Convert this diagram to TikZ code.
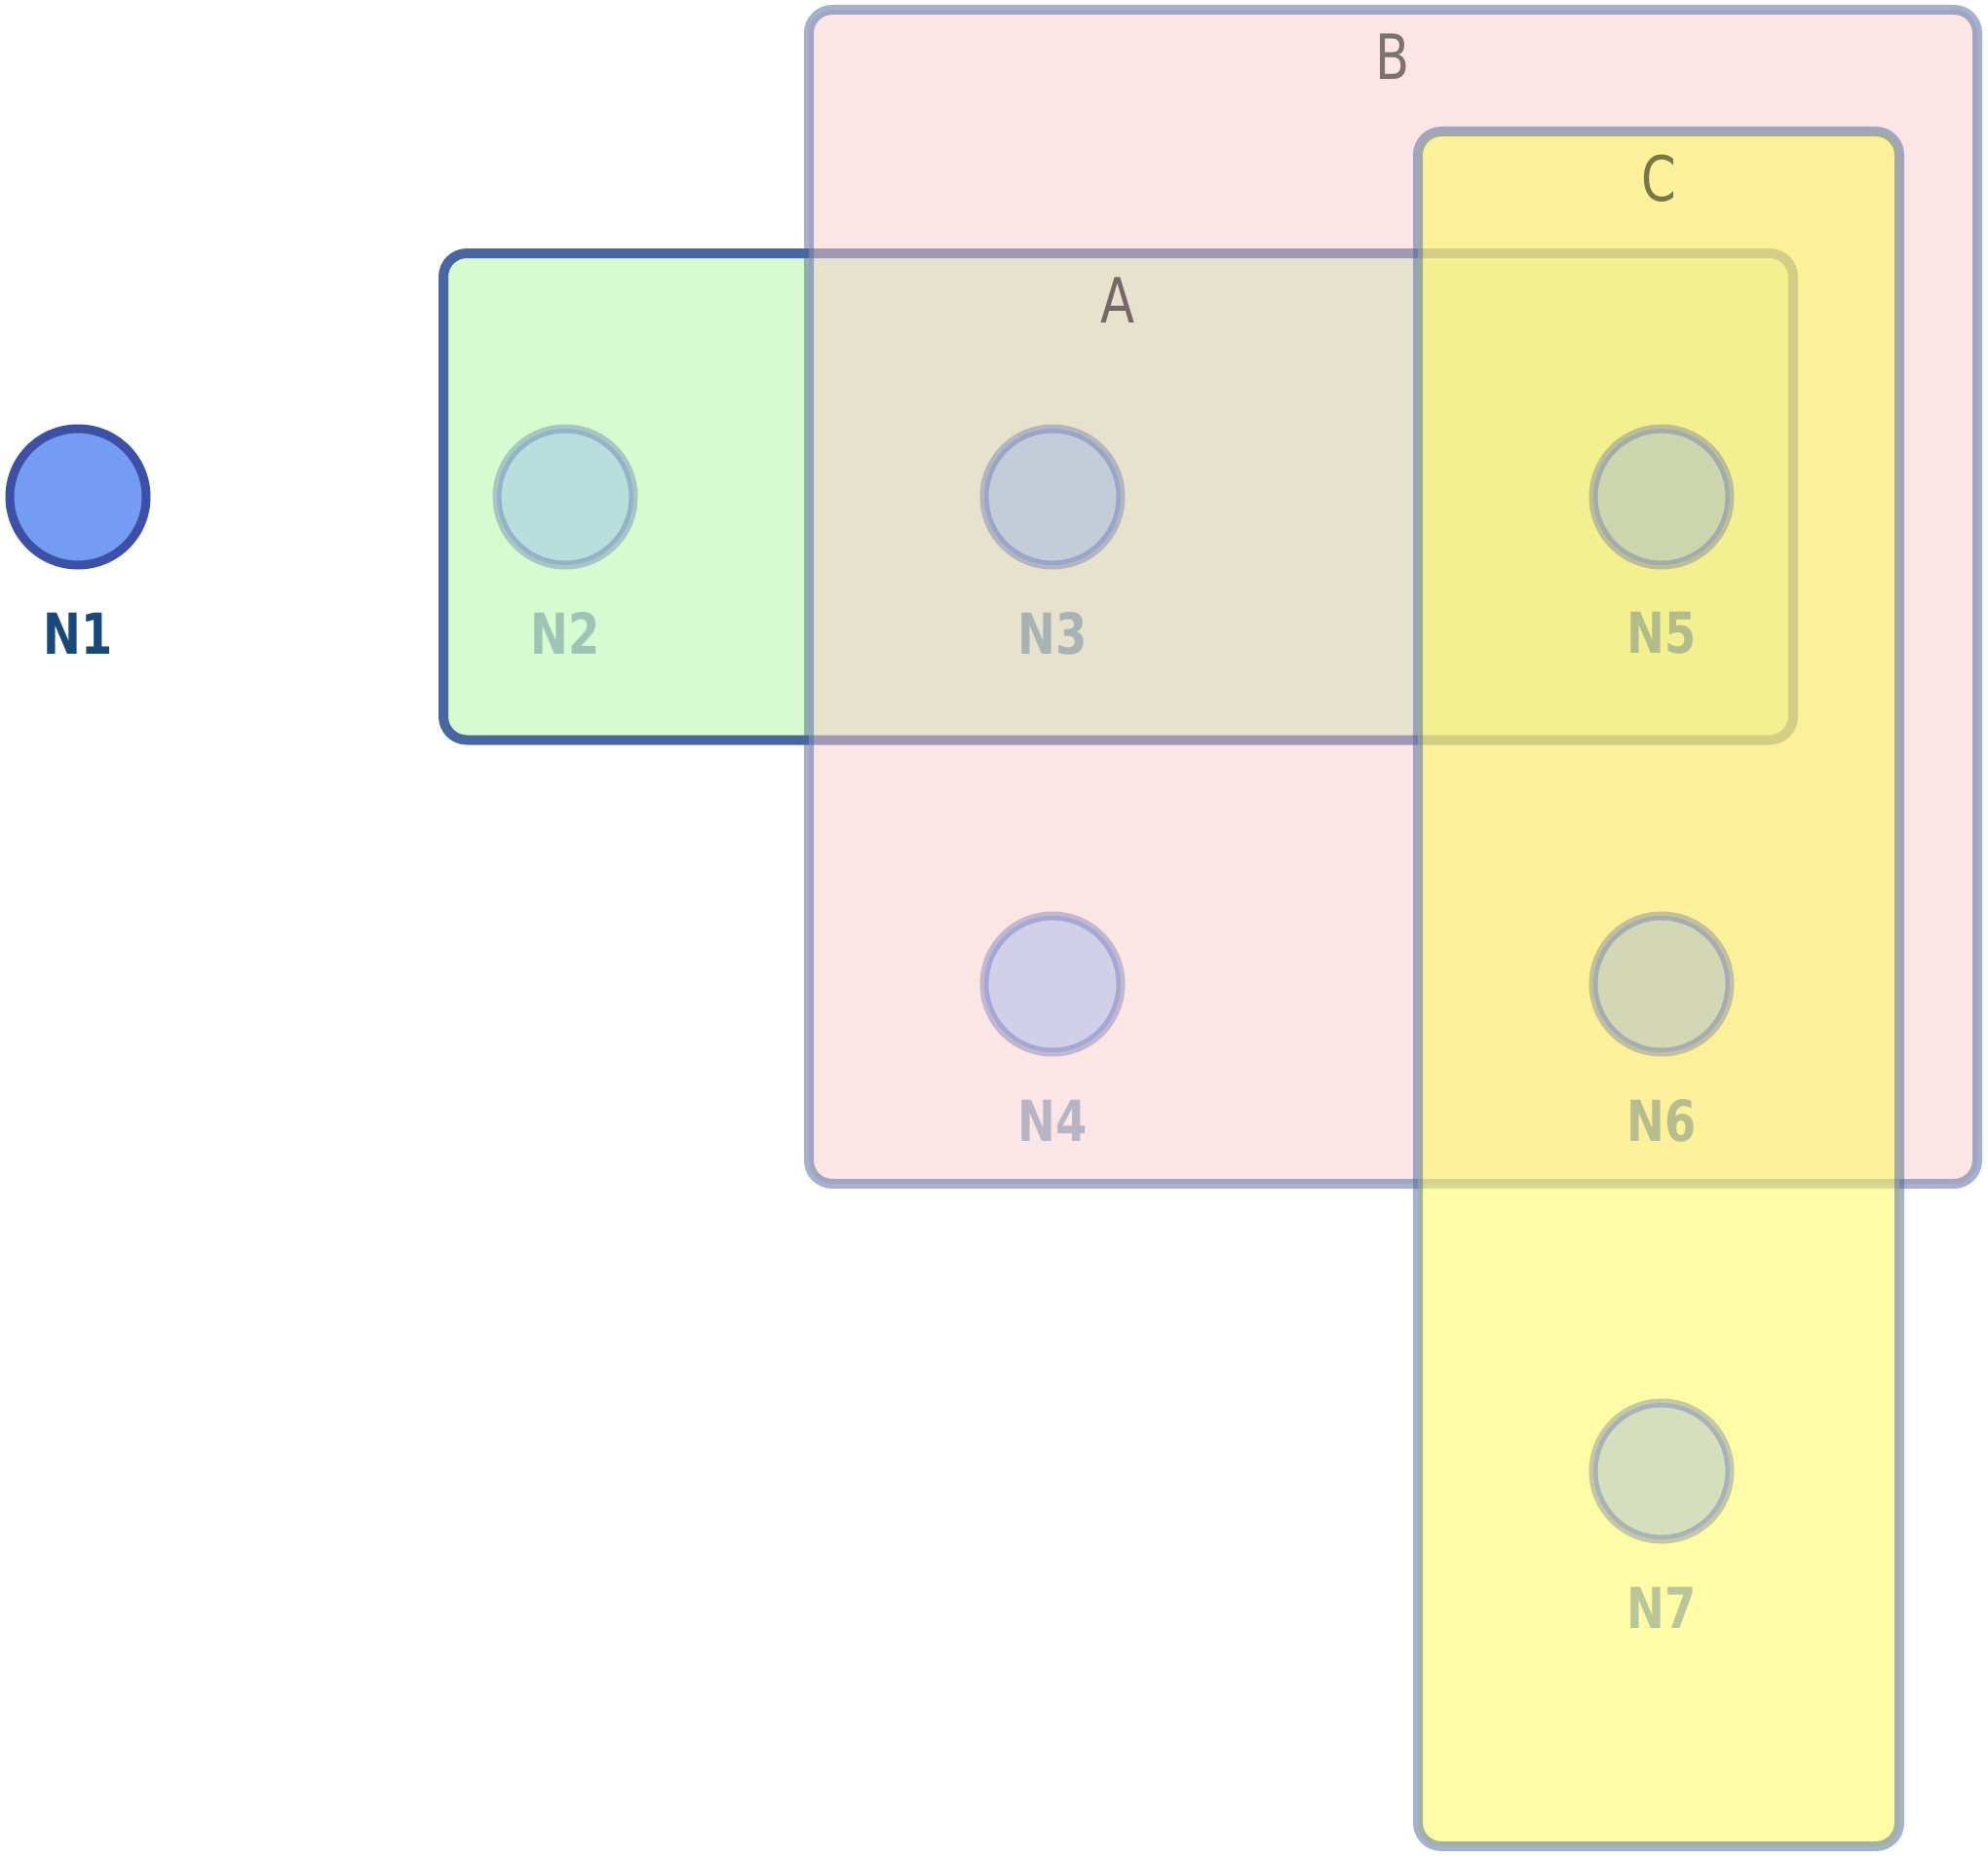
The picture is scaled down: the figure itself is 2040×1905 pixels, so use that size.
\documentclass[tikz,border=0pt]{standalone}
\usepackage{fontspec}
\setmainfont{DejaVu Sans}[FakeStretch=0.8]
\definecolor{nodefill}{RGB}{117,156,245}
\definecolor{nodeline}{RGB}{60,80,165}
\definecolor{nodetext}{RGB}{26,72,120}
\definecolor{boxline}{RGB}{74,102,160}
\definecolor{fillA}{RGB}{215,251,208}
\definecolor{fillB}{RGB}{247,203,203}
\definecolor{fillC}{RGB}{255,250,95}
\definecolor{textA}{RGB}{119,104,104}
\definecolor{textB}{RGB}{124,113,113}
\definecolor{textC}{RGB}{122,118,72}
\tikzset{
  member/.style={circle, draw=nodeline, fill=nodefill, line width=4.5pt, minimum size=70pt, inner sep=0pt},
  faded/.style={draw opacity=0.3, fill opacity=0.3, text opacity=0.3},
  membertext/.style={text=nodetext, font=\fontsize{29}{31}\selectfont\bfseries, inner sep=0pt},
  setlabel/.style={font=\fontsize{32}{34}\selectfont, inner sep=0pt},
  setbox/.style={draw=boxline, line width=5pt, rounded corners=12pt},
}
\begin{document}
\begin{tikzpicture}[x=0.5pt,y=0.5pt,yscale=-1,xscale=1]
\useasboundingbox (0,0) rectangle (2040,1905);

%Shape: Rectangle A
\draw [setbox, fill=fillA] (455,260) rectangle (1840,759.5);
%Shape: Rectangle B
\draw [setbox, draw opacity=0.5, fill=fillB, fill opacity=0.5] (830,10) rectangle (2029,1215);
%Shape: Rectangle C
\draw [setbox, draw opacity=0.5, fill=fillC, fill opacity=0.55] (1455,135) rectangle (1949,1895);

% Text Node
\node (labA) [setlabel, text=textA] at (1147,308) {A};
% Text Node
\node (labB) [setlabel, text=textB] at (1429,58) {B};
% Text Node
\node (labC) [setlabel, text=textC] at (1702,183) {C};

%Shape: Circle
\node (n1) [member] at (80,510) {};
\node (n2) [member, faded] at (580,510) {};
\node (n3) [member, faded] at (1080,510) {};
\node (n4) [member, faded] at (1080,1010) {};
\node (n5) [member, faded] at (1705,510) {};
\node (n6) [member, faded] at (1705,1010) {};
\node (n7) [member, faded] at (1705,1510) {};

% Text Node
\node (n1l) [membertext] at (80,650) {N1};
\node (n2l) [membertext, faded] at (580,650) {N2};
\node (n3l) [membertext, faded] at (1080,650) {N3};
\node (n4l) [membertext, faded] at (1080,1150) {N4};
\node (n5l) [membertext, faded] at (1705,650) {N5};
\node (n6l) [membertext, faded] at (1705,1150) {N6};
\node (n7l) [membertext, faded] at (1705,1650) {N7};
\end{tikzpicture}
\end{document}
